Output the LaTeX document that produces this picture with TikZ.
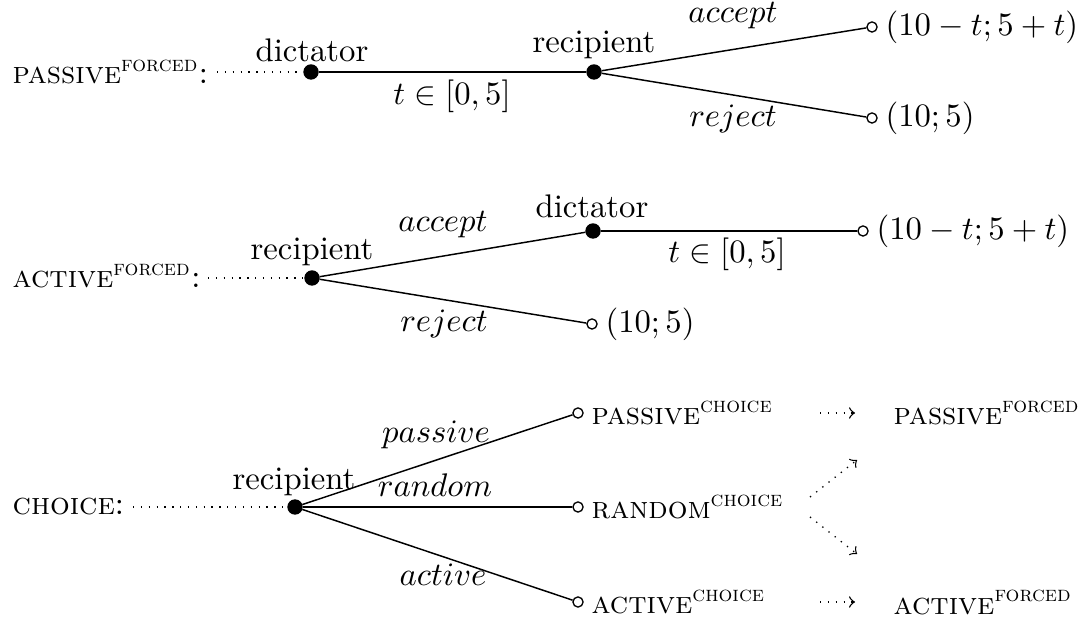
\documentclass[tikz,border=0pt]{standalone}
\usepackage{amsmath}
\tikzset{
  decision/.style={circle, fill=black, draw=black, inner sep=0pt, minimum size=4.3pt},
  terminal/.style={circle, draw=black, fill=white, inner sep=0pt, minimum size=3.1pt},
  tag/.style={anchor=base, inner sep=0pt},
  outcome/.style={inner sep=0pt, xshift=2.2pt},
  branch/.style={line width=0.45pt},
  lead/.style={dotted},
  shiftarrow/.style={dotted, ->},
}
% game name in small capitals with its variant raised after it
\newcommand{\game}[2]{{\fontsize{9.5}{11}\selectfont\textsc{#1}$^{\textsc{#2}}$}}

\begin{document}
\begin{tikzpicture}[x=0.3058pt, y=-0.3058pt]
\useasboundingbox (0,0) rectangle (1091,619);

% ---------- passive, forced ----------
\node[tag, anchor=base west] (passiveF) at (12,84) {\game{passive}{forced}:};
\coordinate (lead1) at (217,72);
\node[decision] (d1) at (311,72) {};
\node[decision] (r1) at (594,72) {};
\node[terminal, label={[outcome]right:$(10-t;5+t)$}] (acc1) at (872,27) {};
\node[terminal, label={[outcome]right:$(10;5)$}] (rej1) at (872,118) {};
\draw[lead] (lead1) -- (d1);
\draw[branch] (d1) -- (r1);
\draw[branch] (r1) -- (acc1);
\draw[branch] (r1) -- (rej1);
\node[tag] (d1name) at (312,62) {dictator};
\node[tag] (r1name) at (594,53) {recipient};
\node[tag] (t1) at (452,105) {$t\in[0,5]$};
\node[tag] (acc1lab) at (733,23) {$accept$};
\node[tag] (rej1lab) at (733,127) {$reject$};

% ---------- active, forced ----------
\node[tag, anchor=base west] (activeF) at (12,288) {\game{active}{forced}:};
\coordinate (lead2) at (208,278);
\node[decision] (r2) at (312,278) {};
\node[decision] (d2) at (593,231) {};
\node[terminal, label={[outcome]right:$(10-t;5+t)$}] (end2) at (863,231) {};
\node[terminal, label={[outcome]right:$(10;5)$}] (rej2) at (592,324) {};
\draw[lead] (lead2) -- (r2);
\draw[branch] (r2) -- (d2);
\draw[branch] (r2) -- (rej2);
\draw[branch] (d2) -- (end2);
\node[tag] (r2name) at (312,260) {recipient};
\node[tag] (d2name) at (592,218) {dictator};
\node[tag] (acc2lab) at (443,232) {$accept$};
\node[tag] (rej2lab) at (444,332) {$reject$};
\node[tag] (t2) at (727,263) {$t\in[0,5]$};

% ---------- choice ----------
\node[tag, anchor=base west] (choice) at (12,515) {{\fontsize{9.5}{11}\selectfont\textsc{choice}}:};
\coordinate (lead3) at (133,507);
\node[decision] (r3) at (295,507) {};
\node[terminal, label={[outcome]right:\game{passive}{choice}}] (pc) at (578,413) {};
\node[terminal, label={[outcome]right:\game{random}{choice}}] (rc) at (578,507) {};
\node[terminal, label={[outcome]right:\game{active}{choice}}] (ac) at (578,602) {};
\draw[lead] (lead3) -- (r3);
\draw[branch] (r3) -- (pc);
\draw[branch] (r3) -- (rc);
\draw[branch] (r3) -- (ac);
\node[tag] (r3name) at (294,490) {recipient};
\node[tag] (paslab) at (436,443) {$passive$};
\node[tag] (ranlab) at (435,497) {$random$};
\node[tag] (actlab) at (443,586) {$active$};

% games each choice leads to
\node[tag, anchor=base west] (pf) at (893,425) {\game{passive}{forced}};
\node[tag, anchor=base west] (af) at (893,614) {\game{active}{forced}};
\coordinate (p0) at (820,413);
\coordinate (p1) at (855,413);
\coordinate (a0) at (820,602);
\coordinate (a1) at (855,602);
\coordinate (u0) at (810,497);
\coordinate (u1) at (857,460);
\coordinate (l0) at (810,517);
\coordinate (l1) at (857,554);
\draw[shiftarrow] (p0) -- (p1);
\draw[shiftarrow] (a0) -- (a1);
\draw[shiftarrow] (u0) -- (u1);
\draw[shiftarrow] (l0) -- (l1);
\end{tikzpicture}
\end{document}
